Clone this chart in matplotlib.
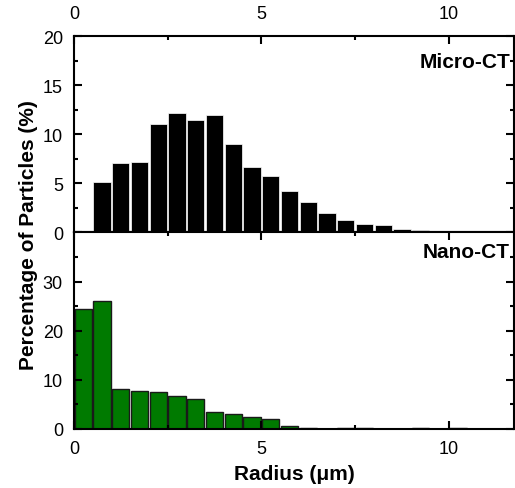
import matplotlib
matplotlib.use("Agg")
import matplotlib.pyplot as plt
import numpy as np

plt.rcParams['font.family'] = ['Liberation Sans', 'DejaVu Sans']

# bin centres (um) and percentages
micro_r = np.arange(0.75, 10.5, 0.5)
micro_pct = [5.1, 7.1, 7.2, 11.05, 12.2, 11.5, 11.95, 9.0, 6.65, 5.8,
             4.2, 3.1, 1.95, 1.3, 0.9, 0.75, 0.35, 0.3, 0.15, 0.05]
nano_r = np.arange(0.25, 10.5, 0.5)
nano_pct = [24.5, 26.0, 8.2, 7.7, 7.45, 6.7, 6.2, 3.4, 2.95, 2.35, 2.1,
            0.7, 0.12, 0.0, 0.1, 0.1, 0.05, 0.0, 0.1, 0.0, 0.25]

fig = plt.figure(figsize=(5.15, 4.89), dpi=100)
ax1 = fig.add_axes([0.1437, 0.5225, 0.855, 0.4018])
ax2 = fig.add_axes([0.1437, 0.1207, 0.855, 0.4018])

ax1.bar(micro_r, micro_pct, width=0.46, color='black', edgecolor='white', linewidth=0.5)
ax2.bar(nano_r, nano_pct, width=0.46, color='#007a00', edgecolor='#1a1a1a', linewidth=1.0)

for ax in (ax1, ax2):
    ax.set_xlim(0, 11.75)
    ax.set_xticks([0, 5, 10])
    ax.set_xticks([2.5, 7.5], minor=True)
    for s in ax.spines.values():
        s.set_linewidth(1.5)
    ax.tick_params(which='both', direction='in', width=1.5, labelsize=13)
    ax.tick_params(which='major', length=6)
    ax.tick_params(which='minor', length=3)

ax1.set_ylim(0, 20)
ax1.set_yticks([0, 5, 10, 15, 20])
ax1.set_yticks([2.5, 7.5, 12.5, 17.5], minor=True)
ax1.tick_params(which='both', top=True, right=True, bottom=False,
                labeltop=True, labelbottom=False)
ax1.tick_params(axis='x', pad=10)
ax1.tick_params(axis='y', pad=8)

ax2.set_ylim(0, 40)
ax2.set_yticks([0, 10, 20, 30])
ax2.set_yticks([5, 15, 25, 35], minor=True)
ax2.tick_params(which='both', top=True, right=True)
ax2.tick_params(axis='x', pad=8)
ax2.tick_params(axis='y', pad=8)

ax1.text(0.99, 0.92, 'Micro-CT', transform=ax1.transAxes, ha='right', va='top',
         fontsize=15, fontweight='bold')
ax2.text(0.99, 0.95, 'Nano-CT', transform=ax2.transAxes, ha='right', va='top',
         fontsize=15, fontweight='bold')

ax2.set_xlabel('Radius (\u03bcm)', fontsize=15, fontweight='bold', labelpad=5)
fig.text(0.055, 0.52, 'Percentage of Particles (%)', rotation=90, ha='center',
         va='center', fontsize=15, fontweight='bold')

fig.savefig('out.png', dpi=100)
